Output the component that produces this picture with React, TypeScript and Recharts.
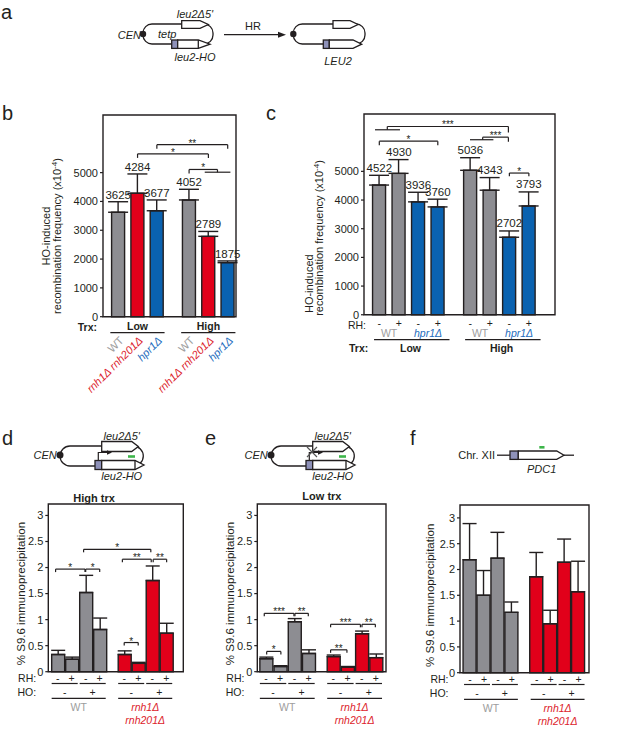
import React from "react";
import {
  Bar,
  BarChart,
  Cell,
  ErrorBar,
  ReferenceArea,
  ReferenceDot,
  ReferenceLine,
  XAxis,
  YAxis,
} from "recharts";

const FONT = "'Liberation Sans', Arial, Helvetica, sans-serif";
const INK = "#231f20";
const GRAY = "#8d8d92";
const RED = "#e1001a";
const BLUE = "#0a62b0";
const GRAY_TXT = "#9d9d9d";
const RED_TXT = "#dc1c2b";
const BLUE_TXT = "#1c6cbd";
const PROMO = "#8e91b9";
const GREEN = "#3db54a";

// panel b: recombination, Low / High transcription
const bPos = [0, 1, 2, 3.67, 4.67, 5.67];
const bValues = [3625, 4284, 3677, 4052, 2789, 1875];
const bErrors = [365, 670, 375, 370, 170, 60];
const bColors = [GRAY, RED, BLUE, GRAY, RED, BLUE];
const bStrains = ["WT", "rnh1Δ rnh201Δ", "hpr1Δ", "WT", "rnh1Δ rnh201Δ", "hpr1Δ"];
const trxLevels = ["Low", "High"];

// panel c: recombination with / without RNase H
const cPos = [0, 1, 2, 3, 4.67, 5.67, 6.67, 7.67];
const cValues = [4522, 4930, 3936, 3760, 5036, 4343, 2702, 3793];
const cErrors = [340, 480, 335, 270, 440, 440, 220, 490];
const cColors = [GRAY, GRAY, BLUE, BLUE, GRAY, GRAY, BLUE, BLUE];
const cStrains = ["WT", "hpr1Δ", "WT", "hpr1Δ"];

const recTicks = [0, 1000, 2000, 3000, 4000, 5000];
const ipTicks = [0, 0.5, 1, 1.5, 2, 2.5, 3];
const rhSigns = ["-", "+", "-", "+", "-", "+", "-", "+"];
const hoSigns = ["-", "+", "-", "+"];
const ipColors = [GRAY, GRAY, GRAY, GRAY, RED, RED, RED, RED];

// panel d: S9.6 IP, high trx
const dPos = [0, 1, 2, 3, 4.75, 5.75, 6.75, 7.75];
const dValues = [0.33, 0.24, 1.52, 0.81, 0.33, 0.16, 1.75, 0.74];
const dErrors = [0.08, 0.04, 0.33, 0.22, 0.07, 0.02, 0.28, 0.19];

// panel e: S9.6 IP, low trx
const ePos = [0, 1, 2, 3, 4.74, 5.74, 6.74, 7.74];
const eValues = [0.25, 0.1, 0.96, 0.35, 0.29, 0.09, 0.73, 0.27];
const eErrors = [0.03, 0.015, 0.06, 0.07, 0.03, 0.01, 0.05, 0.07];

// panel f: S9.6 IP at PDC1
const fPos = [0, 1, 2, 3, 4.78, 5.78, 6.78, 7.78];
const fValues = [2.19, 1.5, 2.22, 1.17, 1.86, 0.95, 2.14, 1.57];
const fErrors = [0.7, 0.48, 0.5, 0.2, 0.47, 0.26, 0.45, 0.59];

type Bracket = { x1: number; x2: number; y: number; d1: number; d2: number; t: string };

const bBrackets: Bracket[] = [
  { x1: 2, x2: 5.67, y: 5970, d1: 4, d2: 4, t: "**" },
  { x1: 1, x2: 4.67, y: 5650, d1: 4, d2: 4, t: "*" },
  { x1: 3.67, x2: 5.14, y: 5110, d1: 4, d2: 2.8, t: "*" },
  { x1: 4.48, x2: 5.81, y: 5015, d1: 0, d2: 0, t: "" },
];
const cBrackets: Bracket[] = [
  { x1: 0.41, x2: 6.62, y: 6565, d1: 3.3, d2: 6, t: "***" },
  { x1: -0.22, x2: 1.06, y: 6450, d1: 0, d2: 0, t: "" },
  { x1: 0, x2: 3, y: 6054, d1: 4, d2: 4, t: "*" },
  { x1: 5.3, x2: 6.62, y: 6193, d1: 2.6, d2: 4.5, t: "***" },
  { x1: 4.65, x2: 5.85, y: 6103, d1: 0, d2: 0, t: "" },
  { x1: 6.67, x2: 7.67, y: 4941, d1: 3.3, d2: 3.3, t: "*" },
];
const dBrackets: Bracket[] = [
  { x1: -0.15, x2: 1.95, y: 1.97, d1: 3, d2: 3, t: "*" },
  { x1: 2.0, x2: 3.0, y: 1.97, d1: 3, d2: 3, t: "*" },
  { x1: 1.85, x2: 6.65, y: 2.35, d1: 3, d2: 3, t: "*" },
  { x1: 4.62, x2: 6.68, y: 2.16, d1: 3, d2: 3, t: "**" },
  { x1: 6.82, x2: 7.78, y: 2.16, d1: 3, d2: 3, t: "**" },
  { x1: 4.75, x2: 5.75, y: 0.56, d1: 3, d2: 3, t: "*" },
];
const eBrackets: Bracket[] = [
  { x1: 0.05, x2: 1.05, y: 0.39, d1: 3, d2: 3, t: "*" },
  { x1: -0.12, x2: 1.97, y: 1.12, d1: 3, d2: 3, t: "***" },
  { x1: 2.04, x2: 2.98, y: 1.12, d1: 3, d2: 3, t: "**" },
  { x1: 4.55, x2: 5.7, y: 0.42, d1: 3, d2: 3, t: "**" },
  { x1: 4.55, x2: 6.65, y: 0.91, d1: 3, d2: 3, t: "***" },
  { x1: 6.76, x2: 7.7, y: 0.91, d1: 3, d2: 3, t: "**" },
];

type Geo = {
  left: number;
  top: number;
  width: number;
  height: number;
  plotL: number;
  plotT: number;
  plotW: number;
  plotH: number;
  yw: number;
  xDom: [number, number];
  yMax: number;
};

const gB: Geo = { left: 0, top: 100, width: 310, height: 300, plotL: 103, plotT: 115, plotW: 133, plotH: 201.7, yw: 40, xDom: [-0.79, 6.1], yMax: 7000 };
const gC: Geo = { left: 300, top: 100, width: 317, height: 262, plotL: 364, plotT: 114, plotW: 191, plotH: 200.75, yw: 40, xDom: [-0.785, 9.01], yMax: 7000 };
const gD: Geo = { left: 0, top: 488, width: 205, height: 242, plotL: 48.3, plotT: 504, plotW: 135, plotH: 167.7, yw: 28, xDom: [-0.67, 8.97], yMax: 3.22 };
const gE: Geo = { left: 205, top: 488, width: 205, height: 242, plotL: 257.3, plotT: 504, plotW: 128.7, plotH: 167.7, yw: 28, xDom: [-0.61, 8.45], yMax: 3.22 };
const gF: Geo = { left: 410, top: 488, width: 207, height: 242, plotL: 460, plotT: 505, plotW: 129, plotH: 167.7, yw: 28, xDom: [-0.72, 8.53], yMax: 3.25 };

const perPx = (g: Geo) => g.yMax / g.plotH;

type TextOpts = {
  dx?: number;
  dy?: number;
  size?: number;
  color?: string;
  bold?: boolean;
  italic?: boolean;
  anchor?: "start" | "middle" | "end";
  rotate?: number;
};

// text placed at a data point, shifted by pixels
function note(key: string, x: number, y: number, content: React.ReactNode, o: TextOpts = {}) {
  return (
    <ReferenceDot
      key={key}
      x={x}
      y={y}
      r={0}
      ifOverflow="visible"
      shape={(p: any) => {
        const tx = p.cx + (o.dx ?? 0);
        const ty = p.cy + (o.dy ?? 0);
        return (
          <text
            x={tx}
            y={ty}
            transform={o.rotate ? `rotate(${o.rotate} ${tx} ${ty})` : undefined}
            textAnchor={o.anchor ?? "middle"}
            fontSize={o.size ?? 11}
            fill={o.color ?? INK}
            fontWeight={o.bold ? "bold" : "normal"}
            fontStyle={o.italic ? "italic" : "normal"}
          >
            {content}
          </text>
        );
      }}
    />
  );
}

function seg(key: string, x1: number, y1: number, x2: number, y2: number, w = 1.2) {
  return (
    <ReferenceLine
      key={key}
      segment={[
        { x: x1, y: y1 },
        { x: x2, y: y2 },
      ]}
      stroke={INK}
      strokeWidth={w}
      ifOverflow="visible"
    />
  );
}

function bracketEls(p: string, list: Bracket[], k: number) {
  return list.flatMap((b, i) => {
    const els = [seg(`${p}h${i}`, b.x1, b.y, b.x2, b.y)];
    if (b.d1) els.push(seg(`${p}l${i}`, b.x1, b.y, b.x1, b.y - b.d1 * k));
    if (b.d2) els.push(seg(`${p}r${i}`, b.x2, b.y, b.x2, b.y - b.d2 * k));
    if (b.t) els.push(note(`${p}t${i}`, (b.x1 + b.x2) / 2, b.y, b.t, { dy: 2, size: 10 }));
    return els;
  });
}

// RH / HO rows and strain names under the IP charts
function ipBelow(p: string, pos: number[], g: Geo) {
  const k = perPx(g);
  const els: React.ReactElement[] = [];
  els.push(note(`${p}rh`, pos[0], 0, "RH:", { dx: -21.5, dy: 10.5, anchor: "end", size: 10.5 }));
  els.push(note(`${p}ho`, pos[0], 0, "HO:", { dx: -21.5, dy: 24, anchor: "end", size: 10.5 }));
  pos.forEach((x, i) => els.push(note(`${p}s${i}`, x, 0, rhSigns[i], { dy: 10, size: 10.5 })));
  for (let j = 0; j < 4; j++) {
    const a = pos[2 * j];
    const b = pos[2 * j + 1];
    els.push(seg(`${p}pl${j}`, a - 0.43, -11.8 * k, b + 0.43, -11.8 * k));
    els.push(note(`${p}hs${j}`, (a + b) / 2, 0, hoSigns[j], { dy: 24, size: 10.5 }));
  }
  for (let j = 0; j < 2; j++) {
    const a = pos[4 * j];
    const b = pos[4 * j + 3];
    els.push(seg(`${p}gl${j}`, a - 0.43, -26.6 * k, b + 0.43, -26.6 * k));
  }
  els.push(note(`${p}wt`, (pos[0] + pos[3]) / 2, 0, "WT", { dy: 39, size: 10.5, color: GRAY_TXT }));
  els.push(note(`${p}m1`, (pos[4] + pos[7]) / 2, 0, "rnh1Δ", { dy: 39, size: 10.5, color: RED_TXT, italic: true }));
  els.push(note(`${p}m2`, (pos[4] + pos[7]) / 2, 0, "rnh201Δ", { dy: 52, size: 10.5, color: RED_TXT, italic: true }));
  els.push(
    note(`${p}yl`, g.xDom[0], 1.5, "% S9.6 immunoprecipitation", {
      dx: p === "f" ? -26 : -23.5,
      size: 11.5,
      rotate: -90,
    })
  );
  return els;
}

function marginOf(g: Geo) {
  return {
    left: g.plotL - g.left - g.yw,
    top: g.plotT - g.top,
    right: g.left + g.width - g.plotL - g.plotW,
    bottom: g.top + g.height - g.plotT - g.plotH,
  };
}

function Chart({
  g,
  pos,
  values,
  errors,
  colors,
  ticks,
  capW,
  children,
}: {
  g: Geo;
  pos: number[];
  values: number[];
  errors: number[];
  colors: string[];
  ticks: number[];
  capW: number;
  children?: React.ReactNode;
}) {
  const data = pos.map((x, i) => ({ x, v: values[i], e: [0, errors[i]], c: colors[i] }));
  return (
    <div style={{ position: "absolute", left: g.left, top: g.top }}>
      <BarChart width={g.width} height={g.height} data={data} margin={marginOf(g)}>
        <XAxis type="number" dataKey="x" domain={g.xDom} hide />
        <YAxis
          type="number"
          domain={[0, g.yMax]}
          ticks={ticks}
          interval={0}
          width={g.yw}
          axisLine={false}
          tickSize={3}
          tickMargin={2}
          tick={{ fontSize: 11, fill: INK }}
          tickLine={{ stroke: INK, strokeWidth: 1.2 }}
        />
        <Bar dataKey="v" barSize={13} stroke={INK} strokeWidth={1.4} isAnimationActive={false}>
          {data.map((d, i) => (
            <Cell key={i} fill={d.c} />
          ))}
          <ErrorBar dataKey="e" direction="y" width={capW} stroke={INK} strokeWidth={1.4} />
        </Bar>
        <ReferenceArea
          x1={g.xDom[0]}
          x2={g.xDom[1]}
          y1={0}
          y2={g.yMax}
          fill="none"
          stroke={INK}
          strokeWidth={1.4}
          ifOverflow="visible"
        />
        {children}
      </BarChart>
    </div>
  );
}

const sup = (
  <>
    recombination frequency (x10<tspan dy={-4} fontSize={8}>-4</tspan>
    <tspan dy={4}>)</tspan>
  </>
);

function arrow(x1: number, x2: number, xp: number, yc: number, h: number) {
  return `M${x1} ${yc - h}H${x2}L${xp} ${yc}L${x2} ${yc + h}H${x1}Z`;
}

const it = { fontStyle: "italic", fontSize: 11, fill: INK } as const;

function Reporter({ dx, blocked }: { dx: number; blocked?: boolean }) {
  return (
    <g transform={`translate(${dx} 0)`}>
      <rect x={60} y={446} width={83.3} height={20} rx={10} fill="none" stroke={INK} strokeWidth={1.3} />
      <circle cx={60} cy={455} r={3.5} fill={INK} />
      <path d={arrow(101.7, 131.7, 138.3, 446.5, 5)} fill="#fff" stroke={INK} strokeWidth={1.3} />
      <rect x={95} y={460.5} width={6.7} height={9} fill={PROMO} stroke={INK} strokeWidth={1.3} />
      <path d={arrow(101.7, 135, 144, 465, 4.5)} fill="#fff" stroke={INK} strokeWidth={1.3} />
      <line x1={135} y1={460.5} x2={135} y2={469.5} stroke={INK} strokeWidth={1.3} />
      <path d="M98.3 460V452.5H108" fill="none" stroke={INK} strokeWidth={1.2} />
      <path d="M112 452.5L107 450.2L107 454.8Z" fill={INK} />
      {blocked && <path d="M96 447L106 457M96 457L106 447" stroke="#555" strokeWidth={1.2} />}
      <line x1={128} y1={456.5} x2={135} y2={456.5} stroke={GREEN} strokeWidth={2.6} />
      <text x={56.7} y={458.5} textAnchor="end" {...it}>
        CEN
      </text>
      <text x={121.7} y={439.5} textAnchor="middle" {...it}>
        leu2Δ5'
      </text>
      <text x={121.7} y={479.5} textAnchor="middle" {...it}>
        leu2-HO
      </text>
    </g>
  );
}

function Overlay() {
  const sw = 1.3;
  return (
    <svg width={617} height={730} style={{ position: "absolute", left: 0, top: 0, pointerEvents: "none" }}>
      <g fontSize={20} fill={INK}>
        <text x={1} y={18.5}>a</text>
        <text x={2} y={120}>b</text>
        <text x={266} y={119.5}>c</text>
        <text x={2} y={445}>d</text>
        <text x={205} y={445}>e</text>
        <text x={410} y={445}>f</text>
      </g>

      {/* a: reporter plasmid before HR */}
      <rect x={143} y={24} width={70} height={20} rx={9} fill="none" stroke={INK} strokeWidth={sw} />
      <circle cx={143} cy={34} r={3.2} fill={INK} />
      <path d={arrow(181.7, 200, 208.3, 24.5, 3.8)} fill="#fff" stroke={INK} strokeWidth={sw} />
      <rect x={171.7} y={40} width={6} height={8.4} fill={PROMO} stroke={INK} strokeWidth={sw} />
      <path d={arrow(177.7, 198.3, 210, 44.2, 4.2)} fill="#fff" stroke={INK} strokeWidth={sw} />
      <line x1={198.3} y1={40} x2={198.3} y2={48.4} stroke={INK} strokeWidth={sw} />
      <text x={141} y={39} textAnchor="end" {...it}>
        CEN
      </text>
      <text x={158} y={38} {...it}>
        tetp
      </text>
      <text x={195} y={17.5} textAnchor="middle" {...it}>
        leu2Δ5'
      </text>
      <text x={195} y={61} textAnchor="middle" {...it}>
        leu2-HO
      </text>
      <line x1={224} y1={34.7} x2={280} y2={34.7} stroke={INK} strokeWidth={sw} />
      <path d="M286 34.7L278 31.7L278 37.7Z" fill={INK} />
      <text x={253} y={29.5} textAnchor="middle" fontSize={11} fill={INK}>
        HR
      </text>

      {/* a: after HR */}
      <rect x={293.3} y={24} width={71.7} height={20} rx={9} fill="none" stroke={INK} strokeWidth={sw} />
      <circle cx={293.3} cy={34} r={3.2} fill={INK} />
      <path d={arrow(333, 350, 358, 24.5, 3.8)} fill="#fff" stroke={INK} strokeWidth={sw} />
      <rect x={323.3} y={40} width={6} height={8.4} fill={PROMO} stroke={INK} strokeWidth={sw} />
      <path d={arrow(329.3, 353, 361.7, 44.2, 4.2)} fill="#fff" stroke={INK} strokeWidth={sw} />
      <text x={338} y={64.5} textAnchor="middle" {...it}>
        LEU2
      </text>

      {/* d, e */}
      <Reporter dx={0} />
      <Reporter dx={211} blocked />

      {/* f: PDC1 locus */}
      <text x={495} y={459} textAnchor="end" fontSize={11} fill={INK}>
        Chr. XII
      </text>
      <line x1={497} y1={455.2} x2={510} y2={455.2} stroke={INK} strokeWidth={sw} />
      <rect x={510} y={451} width={8.3} height={8.4} fill={PROMO} stroke={INK} strokeWidth={sw} />
      <path d={arrow(518.3, 556.7, 564, 455.2, 4.2)} fill="#fff" stroke={INK} strokeWidth={sw} />
      <line x1={564} y1={455.2} x2={574} y2={455.2} stroke={INK} strokeWidth={sw} />
      <line x1={539.3} y1={447.3} x2={544.5} y2={447.3} stroke={GREEN} strokeWidth={2.6} />
      <text x={541.7} y={473} textAnchor="middle" {...it}>
        PDC1
      </text>
    </svg>
  );
}

export default function App() {
  const kB = perPx(gB);
  const kC = perPx(gC);
  const bGroups = [bPos.slice(0, 3), bPos.slice(3)];
  const cGroups = [cPos.slice(0, 4), cPos.slice(4)];

  return (
    <div
      style={{
        position: "absolute",
        left: 0,
        top: 0,
        width: 617,
        height: 730,
        background: "#fff",
        fontFamily: FONT,
        color: INK,
        overflow: "hidden",
      }}
    >
      <Chart g={gB} pos={bPos} values={bValues} errors={bErrors} colors={bColors} ticks={recTicks} capW={10}>
        {bracketEls("b", bBrackets, kB)}
        {bPos.map((x, i) => note(`bv${i}`, x, bValues[i] + bErrors[i], String(bValues[i]), { dy: -3, size: 11.5 }))}
        {note("btrx", gB.xDom[0], 0, "Trx:", { dx: -6, dy: 14, anchor: "end", bold: true, size: 10.5 })}
        {bGroups.map((grp, j) => note(`bg${j}`, (grp[0] + grp[2]) / 2, 0, trxLevels[j], { dy: 13.5, bold: true, size: 10.5 }))}
        {bGroups.map((grp, j) => seg(`bu${j}`, grp[0] - 0.41, -16 * kB, grp[2] + 0.4, -16 * kB))}
        {bPos.map((x, i) =>
          note(`bs${i}`, x, 0, bStrains[i], {
            dx: 6,
            dy: 24.5,
            rotate: -45,
            anchor: "end",
            size: 11,
            italic: i % 3 !== 0,
            color: i % 3 === 0 ? GRAY_TXT : i % 3 === 1 ? RED_TXT : BLUE_TXT,
          })
        )}
        {note("by1", gB.xDom[0], 2800, "HO-induced", { dx: -53, rotate: -90 })}
        {note("by2", gB.xDom[0], 2800, sup, { dx: -41.5, rotate: -90 })}
      </Chart>

      <Chart g={gC} pos={cPos} values={cValues} errors={cErrors} colors={cColors} ticks={recTicks} capW={10}>
        {bracketEls("c", cBrackets, kC)}
        {cPos.map((x, i) => note(`cv${i}`, x, cValues[i] + cErrors[i], String(cValues[i]), { dy: -3.5, size: 11.5 }))}
        {note("crh", gC.xDom[0], 0, "RH:", { dx: 2, dy: 14, anchor: "end", size: 10.5 })}
        {cPos.map((x, i) => note(`cs${i}`, x, 0, rhSigns[i], { dy: 12, size: 10.5 }))}
        {[0, 1, 2, 3].map((j) =>
          note(`cn${j}`, (cPos[2 * j] + cPos[2 * j + 1]) / 2, 0, cStrains[j], {
            dy: 22.5,
            size: 10.5,
            italic: j % 2 === 1,
            color: j % 2 === 1 ? BLUE_TXT : GRAY_TXT,
          })
        )}
        {cGroups.map((grp, j) => seg(`cu${j}`, grp[0] - 0.27, -24.8 * kC, grp[3] + 0.6, -24.8 * kC))}
        {note("ctrx", gC.xDom[0], 0, "Trx:", { dx: 4.3, dy: 37, anchor: "end", bold: true, size: 10.5 })}
        {cGroups.map((grp, j) => note(`cg${j}`, (grp[0] + grp[3]) / 2 + 0.1, 0, trxLevels[j], { dy: 37, bold: true, size: 10.5 }))}
        {note("cy1", gC.xDom[0], 0, "HO-induced", { dx: -51, dy: -1.7, rotate: -90, anchor: "start" })}
        {note("cy2", gC.xDom[0], 2676, sup, { dx: -40.5, rotate: -90 })}
      </Chart>

      <Chart g={gD} pos={dPos} values={dValues} errors={dErrors} colors={ipColors} ticks={ipTicks} capW={7}>
        {bracketEls("d", dBrackets, perPx(gD))}
        {ipBelow("d", dPos, gD)}
        {note("dt", 2.6, gD.yMax, "High trx", { dy: -2.5, bold: true, size: 11 })}
      </Chart>

      <Chart g={gE} pos={ePos} values={eValues} errors={eErrors} colors={ipColors} ticks={ipTicks} capW={7}>
        {bracketEls("e", eBrackets, perPx(gE))}
        {ipBelow("e", ePos, gE)}
        {note("et", 3.94, gE.yMax, "Low trx", { dy: -4, bold: true, size: 11 })}
      </Chart>

      <Chart g={gF} pos={fPos} values={fValues} errors={fErrors} colors={ipColors} ticks={ipTicks} capW={7}>
        {ipBelow("f", fPos, gF)}
      </Chart>

      <Overlay />
    </div>
  );
}
